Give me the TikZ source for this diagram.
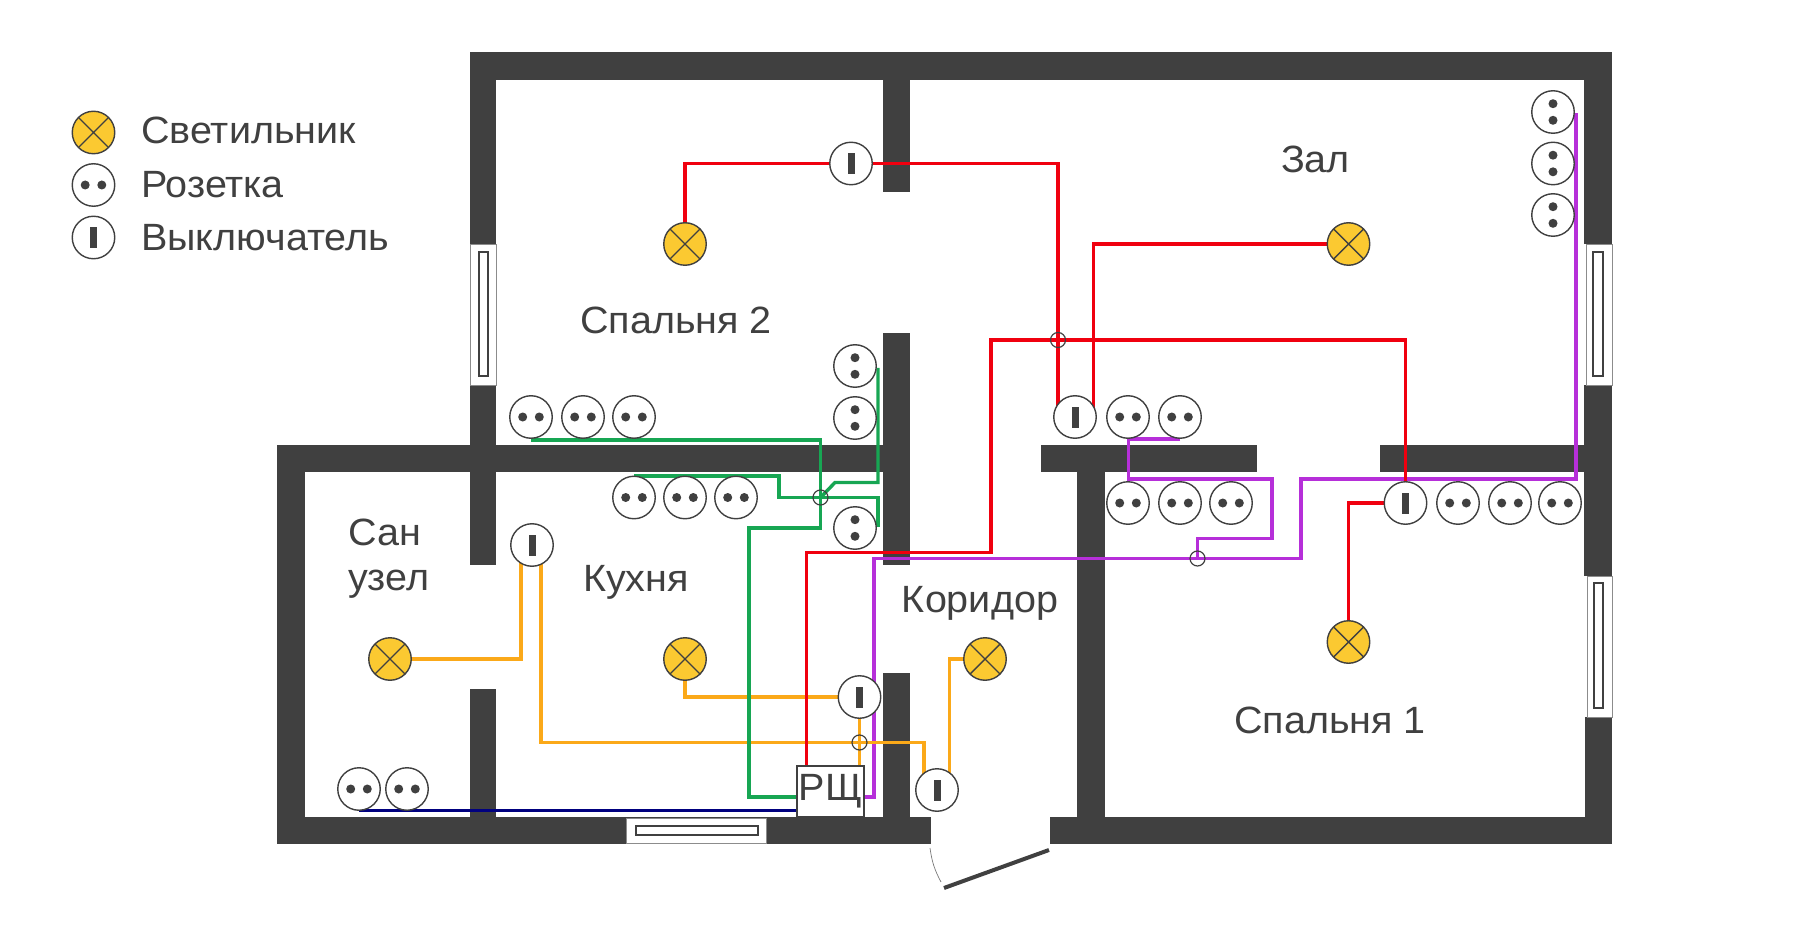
\documentclass[tikz,border=0pt]{standalone}
\usepackage{fontspec}
\setmainfont[FakeStretch=1.04]{Liberation Sans}
\usetikzlibrary{backgrounds}
\definecolor{wallc}{HTML}{404040}
\definecolor{lampc}{HTML}{FBC931}
\definecolor{wirered}{HTML}{F0000F}
\definecolor{wiregreen}{HTML}{17A653}
\definecolor{wirepurple}{HTML}{B62FD9}
\definecolor{wireorange}{HTML}{FBA919}
\definecolor{wirenavy}{HTML}{00007F}
\begin{document}
\begin{tikzpicture} [ x=1pt, y=-1pt,
		      symb/.style={draw=wallc, shape=circle, line width=1.4pt, inner sep=0pt, outer sep=0pt, minimum size=42.5pt, fill=white},
		      lamp/.style={symb, fill=lampc, path picture={
			\draw[wallc, line width=1.4pt] (path picture bounding box.north west) -- (path picture bounding box.south east)
			  (path picture bounding box.north east) -- (path picture bounding box.south west);}},
		      sockh/.style={symb, path picture={
			\fill[wallc] (path picture bounding box.center) ++(-8.3pt,0pt) circle[radius=4.5pt] ++(16.6pt,0pt) circle[radius=4.5pt];}},
		      sockv/.style={symb, path picture={
			\fill[wallc] (path picture bounding box.center) ++(0pt,-8.3pt) circle[radius=4.5pt] ++(0pt,16.6pt) circle[radius=4.5pt];}},
		      switch/.style={symb, path picture={
			\fill[wallc] ([xshift=-3.5pt,yshift=-10.5pt]path picture bounding box.center) rectangle ++(7pt,21pt);}},
		      junc/.style={draw=wallc, shape=circle, line width=1.2pt, inner sep=0pt, outer sep=0pt, minimum size=15pt},
		      lbl/.style={text=wallc, inner sep=0pt, font=\fontsize{38}{44}\selectfont},
		      wire/.style={line width=3.4pt, line join=miter},
		      wall/.style={fill=wallc},
		      window/.style={fill=white, draw=wallc!60, line width=0.7pt},
		      glass/.style={fill=white, draw=wallc, line width=1.2pt}
		    ]
  \useasboundingbox (0,0) rectangle (1800,933);

  % legend
  \node[lamp]  (leglamp) at (93.5,132.5) {};
  \node[sockh] (legsock) at (93.5,185) {};
  \node[switch] (legsw)  at (93.5,237.5) {};
  \node[lbl, anchor=base west] (legt1) at (141,144) {Светильник};
  \node[lbl, anchor=base west] (legt2) at (141,198) {Розетка};
  \node[lbl, anchor=base west] (legt3) at (141,251) {Выключатель};

  % rooms
  \node[lbl, anchor=base] (room2) at (676,334) {Спальня 2};
  \node[lbl, anchor=base] (roomz) at (1315.5,173) {Зал};
  \node[lbl, anchor=base west] (roomsa) at (348,545) {Сан};
  \node[lbl, anchor=base west] (roomsb) at (348,590) {узел};
  \node[lbl, anchor=base] (roomk) at (636,591) {Кухня};
  \node[lbl, anchor=base] (roomc) at (980,612) {Коридор};
  \node[lbl, anchor=base] (room1) at (1330,733) {Спальня 1};

  % lamps and switches
  \node[lamp] (lampb) at (685,244) {};
  \node[lamp] (lampz) at (1348.5,244) {};
  \node[lamp] (lampa) at (1348.5,642) {};
  \node[lamp] (lamps) at (390,659) {};
  \node[lamp] (lampk) at (685,659) {};
  \node[lamp] (lampc) at (985,659) {};
  \node[switch] (swb) at (851,163.5) {};
  \node[switch] (swz) at (1075,417) {};
  \node[switch] (swa) at (1405.5,503) {};
  \node[switch] (sws) at (532,545) {};
  \node[switch] (swk) at (859.5,697) {};
  \node[switch] (swc) at (937,790) {};

  % sockets
  \foreach \n/\x in {sba/531,sbb/583,sbc/634,sza/1128,szb/1180} \node[sockh] (\n) at (\x,417) {};
  \foreach \n/\y in {sbd/366,sbe/418} \node[sockv] (\n) at (855,\y) {};
  \foreach \n/\y in {szc/112,szd/163.5,sze/215} \node[sockv] (\n) at (1553,\y) {};
  \foreach \n/\x in {ska/634,skb/685,skc/736} \node[sockh] (\n) at (\x,497.5) {};
  \node[sockv] (skd) at (855,528) {};
  \foreach \n/\x in {saa/1128,sab/1180,sac/1231,sad/1458,sae/1510,saf/1560} \node[sockh] (\n) at (\x,503) {};
  \foreach \n/\x in {ssa/359,ssb/407} \node[sockh] (\n) at (\x,789) {};

  \node[draw=wallc, line width=1.2pt, fill=white, text=wallc, inner sep=0pt, minimum width=67pt, minimum height=51pt, font=\fontsize{38}{44}\selectfont] (rsh) at (830.5,791.5) {РЩ};

  \node[junc] (jr) at (1058,340) {};
  \node[junc] (jg) at (820.5,497.5) {};
  \node[junc] (jo) at (859.5,742.5) {};
  \node[junc] (jp) at (1197.5,558.5) {};

  \foreach \n/\x/\y in {rz/1093.5/417,ra/806.5/770,rb/991/552.5,rc/1405.5/340,
      ga/531/440,gb/820.5/528,gc/749/797,gd/878/368,ge/835/482.5,gf/634/476,gg/779/497.5,gh/878/527,
      pa/850/797,pb/874/558.5,pc/1301/479,pd/1576/113,pe/1180/439,pf/1128.5/479,pg/1272/538.5,
      oa/521/545,ob/541/545,oe/924/742.5,of/924/780,og/949.5/780,
      da/1049/850,db/944/888,dc/930/848,dd/941/882}
    \coordinate (\n) at (\x,\y);

  \begin{scope}[on background layer]
    \foreach \xa/\ya/\xb/\yb in {470/52/1612/80, 470/52/496/244, 470/385/496/472, 883/52/910/192, 883/333/910/565,
	883/673/910/844, 277/445/909/472, 277/445/304.5/844, 277/817/931/844, 1050/817/1612/844, 470/445/496/565,
	470/689/496/844, 1041/445/1257/472, 1380/445/1612/472, 1077/472/1105/844, 1584/52/1612/244,
	1584/385/1612/576, 1585/717/1612/844}
      \fill[wall] (\xa,\ya) rectangle (\xb,\yb);
    \foreach \xa/\ya/\xb/\yb/\xc/\yc/\xd/\yd in {470/244/496/385/479/252/488/376, 1586/244/1612/385/1593/252/1603/376,
	1587/576/1612/717/1594/583/1603/708, 626/818/766/843/636/826/758/835} {
      \draw[window] (\xa,\ya) rectangle (\xb,\yb);
      \draw[glass] (\xc,\yc) rectangle (\xd,\yd);
    }
    \draw[wallc, line width=4pt] (da) -- (db);
    \draw[wallc!70, line width=0.7pt] (dc) to[bend right=10] (dd);

    \draw[wire, wirepurple] (pa) -| (pb) -| (pc) -| (pd);
    \draw[wire, wirepurple] (pe) -| (pf) -| (pg) -| (jp.center);

    \draw[wire, wireorange] (lamps) -| (oa);
    \draw[wire, wireorange] (ob) |- (oe) -- (of);
    \draw[wire, wireorange] (lampk) |- (swk);
    \draw[wire, wireorange] (swk) -- (swk |- rsh);
    \draw[wire, wireorange] (lampc) -| (og);

    \draw[wire, wirered] (lampb) |- (swb);
    \draw[wire, wirered] (swb) -- (swb -| jr) -- (jr |- swz);
    \draw[wire, wirered] (lampz) -| (rz);
    \draw[wire, wirered] (ra) |- (rb) |- (rc) -- (rc |- swa);
    \draw[wire, wirered] (swa) -| (lampa);

    \draw[wire, wiregreen] (ga) -| (gb) -| (gc) -- (gc -| rsh);
    \draw[wire, wiregreen] (gd) |- (ge) -- (jg.center);
    \draw[wire, wiregreen] (gf) -| (gg) -| (gh);

    \draw[wire, wirenavy] (ssa.south) -- (ssa.south -| rsh);
  \end{scope}
\end{tikzpicture}
\end{document}
